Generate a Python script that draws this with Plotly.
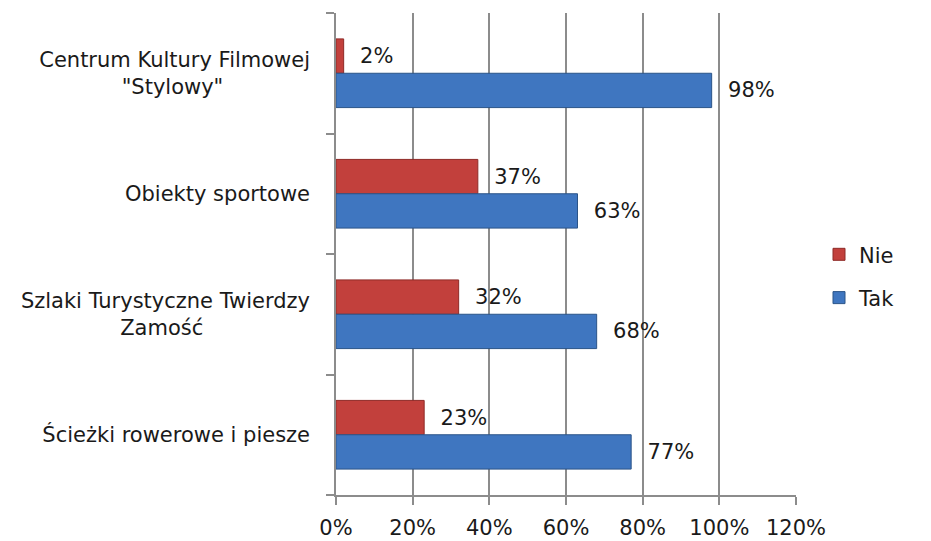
import plotly.graph_objects as go

categories = ['Centrum Kultury Filmowej\n"Stylowy"', 'Obiekty sportowe',
              'Szlaki Turystyczne Twierdzy\nZamość', 'Ścieżki rowerowe i piesze']
nie = [0.02, 0.37, 0.32, 0.23]
tak = [0.98, 0.63, 0.68, 0.77]
series_names = ['Nie', 'Tak']
x_ticks = [0, 0.2, 0.4, 0.6, 0.8, 1.0, 1.2]

FONT = "DejaVu Sans"
FS = 21
NB = "\u00a0"

# approximate DejaVu Sans advance widths (em) – used only for centring padding
_W = {'a': .613, 'b': .635, 'c': .550, 'd': .635, 'e': .615, 'f': .352, 'g': .635,
      'h': .634, 'i': .278, 'j': .278, 'k': .579, 'l': .278, 'm': .974, 'n': .634,
      'o': .612, 'p': .635, 'r': .411, 's': .521, 't': .392, 'u': .634, 'w': .818,
      'y': .592, 'z': .525, 'ć': .550, 'ś': .521, 'C': .698, 'K': .656, 'F': .575,
      'S': .635, 'T': .611, 'Z': .685, ' ': .318, '"': .460}


def _width(s):
    return sum(_W.get(ch, 0.61) for ch in s)


def centered_label(label):
    # pad shorter lines so multi-line labels look centred (style only)
    lines = label.split("\n")
    if len(lines) == 1:
        return label
    longest = max(_width(l) for l in lines)
    out = []
    for l in lines:
        pad = int(round((longest - _width(l)) / 2 / 0.318))
        out.append(l + NB * pad)
    return "<br>".join(out)


ticktext = [centered_label(c) for c in categories]

fig = go.Figure()
fig.add_trace(go.Bar(
    y=categories, x=nie, name=series_names[0], orientation='h',
    marker=dict(color='#C2403C', line=dict(color='#8E2A27', width=1)),
    texttemplate='  %{x:.0%}', textposition='outside', cliponaxis=False,
    textfont=dict(family=FONT, size=FS, color='#1a1a1a'),
    legendgroup='a'))
fig.add_trace(go.Bar(
    y=categories, x=tak, name=series_names[1], orientation='h',
    marker=dict(color='#3F76C0', line=dict(color='#2B5488', width=1)),
    texttemplate='  %{x:.0%}', textposition='outside', cliponaxis=False,
    textfont=dict(family=FONT, size=FS, color='#1a1a1a'),
    legendgroup='b'))

fig.update_layout(
    width=931, height=541,
    margin=dict(l=328, r=143, t=5, b=54, autoexpand=False),
    paper_bgcolor='white', plot_bgcolor='white',
    barmode='group', bargap=0.43, bargroupgap=0,
    font=dict(family=FONT, size=FS, color='#1a1a1a'),
    legend=dict(x=1.05, y=0.454, yanchor='middle', xanchor='left',
                tracegroupgap=13, font=dict(family=FONT, size=FS),
                itemwidth=30),
    xaxis=dict(range=[0, 1.2], tickvals=x_ticks, tickformat='.0%',
               showgrid=True, gridcolor='#8c8c8c', gridwidth=1.5,
               showline=True, linecolor='#8c8c8c', linewidth=1.5,
               ticks='outside', ticklen=8, tickcolor='#8c8c8c', tickwidth=1.5,
               ticklabelstandoff=5,
               zeroline=False, automargin=False, tickfont=dict(size=FS)),
    yaxis=dict(autorange='reversed', tickvals=categories, ticktext=ticktext,
               showline=True, linecolor='#8c8c8c', linewidth=1.5,
               ticks='outside', tickson='boundaries', ticklen=8,
               tickcolor='#8c8c8c', tickwidth=1.5, ticklabelstandoff=20,
               showgrid=False, automargin=False, tickfont=dict(size=FS)),
)

fig.write_html("out.html")
